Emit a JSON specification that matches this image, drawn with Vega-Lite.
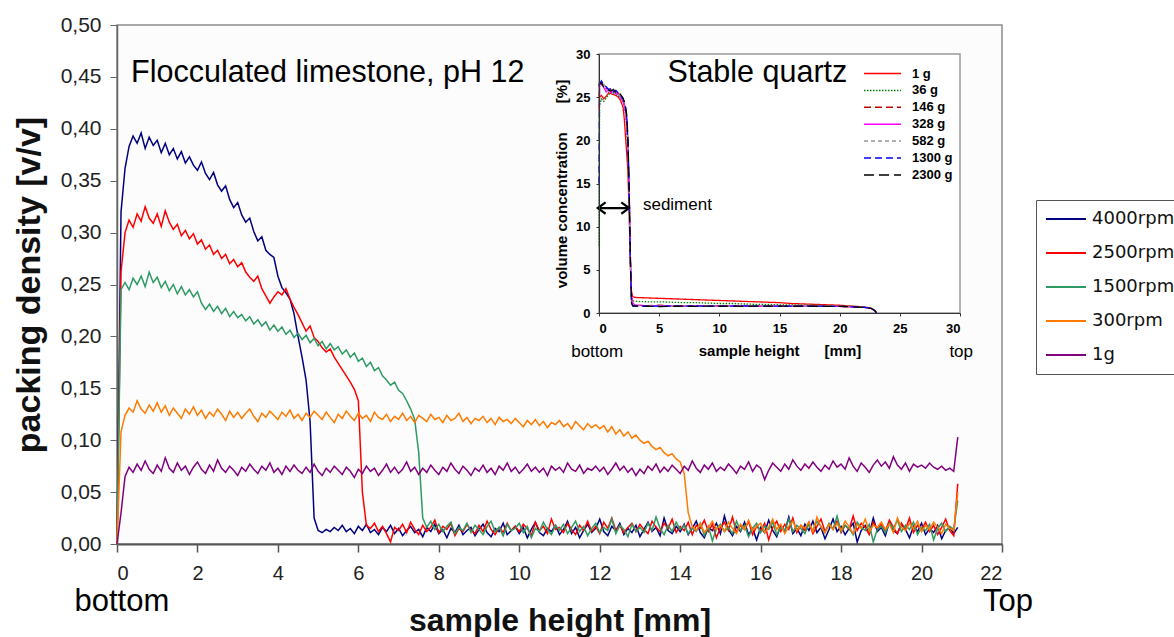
{
"$schema": "https://vega.github.io/schema/vega-lite/v6.json",
"width": 885, "height": 519,
"autosize": {"type": "none"},
"padding": {"left": 117, "top": 25, "right": 172, "bottom": 93},
"background": "white",
"config": {"font": "Liberation Sans", "view": {"stroke": "#8c8c8c", "strokeWidth": 1.5, "fill": "#fcfcfc"}},
"datasets": {
"main": [
{"x":0.0,"4000rpm":0,"2500rpm":0,"1500rpm":0,"300rpm":0,"1g":0},
{"x":0.1,"4000rpm":0.320,"2500rpm":0.262,"1500rpm":0.245,"300rpm":0.108,"1g":0.030},
{"x":0.2,"4000rpm":0.362,"2500rpm":0.300,"1500rpm":0.252,"300rpm":0.124,"1g":0.065},
{"x":0.3,"4000rpm":0.383,"2500rpm":0.312,"1500rpm":0.245,"300rpm":0.131,"1g":0.074},
{"x":0.4,"4000rpm":0.393,"2500rpm":0.305,"1500rpm":0.256,"300rpm":0.127,"1g":0.069},
{"x":0.5,"4000rpm":0.386,"2500rpm":0.318,"1500rpm":0.250,"300rpm":0.138,"1g":0.077},
{"x":0.6,"4000rpm":0.396,"2500rpm":0.311,"1500rpm":0.258,"300rpm":0.130,"1g":0.071},
{"x":0.7,"4000rpm":0.381,"2500rpm":0.325,"1500rpm":0.248,"300rpm":0.126,"1g":0.080},
{"x":0.8,"4000rpm":0.392,"2500rpm":0.314,"1500rpm":0.262,"300rpm":0.134,"1g":0.072},
{"x":0.9,"4000rpm":0.384,"2500rpm":0.309,"1500rpm":0.252,"300rpm":0.128,"1g":0.068},
{"x":1.0,"4000rpm":0.389,"2500rpm":0.318,"1500rpm":0.257,"300rpm":0.136,"1g":0.076},
{"x":1.1,"4000rpm":0.377,"2500rpm":0.306,"1500rpm":0.247,"300rpm":0.127,"1g":0.070},
{"x":1.2,"4000rpm":0.386,"2500rpm":0.321,"1500rpm":0.253,"300rpm":0.133,"1g":0.083},
{"x":1.3,"4000rpm":0.375,"2500rpm":0.310,"1500rpm":0.244,"300rpm":0.124,"1g":0.073},
{"x":1.4,"4000rpm":0.381,"2500rpm":0.303,"1500rpm":0.250,"300rpm":0.131,"1g":0.069},
{"x":1.5,"4000rpm":0.371,"2500rpm":0.308,"1500rpm":0.241,"300rpm":0.126,"1g":0.078},
{"x":1.6,"4000rpm":0.378,"2500rpm":0.297,"1500rpm":0.248,"300rpm":0.121,"1g":0.071},
{"x":1.7,"4000rpm":0.367,"2500rpm":0.302,"1500rpm":0.240,"300rpm":0.130,"1g":0.075},
{"x":1.8,"4000rpm":0.373,"2500rpm":0.294,"1500rpm":0.245,"300rpm":0.125,"1g":0.067},
{"x":1.9,"4000rpm":0.365,"2500rpm":0.299,"1500rpm":0.238,"300rpm":0.132,"1g":0.074},
{"x":2.0,"4000rpm":0.360,"2500rpm":0.289,"1500rpm":0.243,"300rpm":0.124,"1g":0.079},
{"x":2.1,"4000rpm":0.368,"2500rpm":0.293,"1500rpm":0.232,"300rpm":0.129,"1g":0.072},
{"x":2.2,"4000rpm":0.357,"2500rpm":0.284,"1500rpm":0.226,"300rpm":0.121,"1g":0.068},
{"x":2.3,"4000rpm":0.351,"2500rpm":0.288,"1500rpm":0.231,"300rpm":0.127,"1g":0.076},
{"x":2.4,"4000rpm":0.358,"2500rpm":0.279,"1500rpm":0.224,"300rpm":0.123,"1g":0.070},
{"x":2.5,"4000rpm":0.346,"2500rpm":0.283,"1500rpm":0.229,"300rpm":0.130,"1g":0.081},
{"x":2.6,"4000rpm":0.340,"2500rpm":0.275,"1500rpm":0.222,"300rpm":0.125,"1g":0.073},
{"x":2.7,"4000rpm":0.345,"2500rpm":0.279,"1500rpm":0.227,"300rpm":0.119,"1g":0.069},
{"x":2.8,"4000rpm":0.332,"2500rpm":0.270,"1500rpm":0.219,"300rpm":0.128,"1g":0.075},
{"x":2.9,"4000rpm":0.324,"2500rpm":0.274,"1500rpm":0.224,"300rpm":0.122,"1g":0.071},
{"x":3.0,"4000rpm":0.329,"2500rpm":0.267,"1500rpm":0.218,"300rpm":0.127,"1g":0.066},
{"x":3.1,"4000rpm":0.317,"2500rpm":0.271,"1500rpm":0.221,"300rpm":0.121,"1g":0.074},
{"x":3.2,"4000rpm":0.310,"2500rpm":0.262,"1500rpm":0.215,"300rpm":0.126,"1g":0.070},
{"x":3.3,"4000rpm":0.314,"2500rpm":0.257,"1500rpm":0.219,"300rpm":0.130,"1g":0.077},
{"x":3.4,"4000rpm":0.301,"2500rpm":0.253,"1500rpm":0.212,"300rpm":0.123,"1g":0.072},
{"x":3.5,"4000rpm":0.292,"2500rpm":0.258,"1500rpm":0.216,"300rpm":0.118,"1g":0.068},
{"x":3.6,"4000rpm":0.296,"2500rpm":0.246,"1500rpm":0.210,"300rpm":0.126,"1g":0.075},
{"x":3.7,"4000rpm":0.283,"2500rpm":0.239,"1500rpm":0.214,"300rpm":0.122,"1g":0.071},
{"x":3.8,"4000rpm":0.279,"2500rpm":0.232,"1500rpm":0.206,"300rpm":0.128,"1g":0.078},
{"x":3.9,"4000rpm":0.276,"2500rpm":0.238,"1500rpm":0.211,"300rpm":0.124,"1g":0.069},
{"x":4.0,"4000rpm":0.258,"2500rpm":0.243,"1500rpm":0.205,"300rpm":0.120,"1g":0.073},
{"x":4.1,"4000rpm":0.247,"2500rpm":0.240,"1500rpm":0.209,"300rpm":0.127,"1g":0.067},
{"x":4.2,"4000rpm":0.242,"2500rpm":0.246,"1500rpm":0.202,"300rpm":0.123,"1g":0.075},
{"x":4.3,"4000rpm":0.236,"2500rpm":0.236,"1500rpm":0.206,"300rpm":0.129,"1g":0.070},
{"x":4.4,"4000rpm":0.222,"2500rpm":0.228,"1500rpm":0.199,"300rpm":0.121,"1g":0.076},
{"x":4.5,"4000rpm":0.200,"2500rpm":0.221,"1500rpm":0.203,"300rpm":0.125,"1g":0.071},
{"x":4.6,"4000rpm":0.180,"2500rpm":0.213,"1500rpm":0.197,"300rpm":0.119,"1g":0.068},
{"x":4.7,"4000rpm":0.158,"2500rpm":0.205,"1500rpm":0.201,"300rpm":0.126,"1g":0.074},
{"x":4.8,"4000rpm":0.118,"2500rpm":0.210,"1500rpm":0.194,"300rpm":0.122,"1g":0.069},
{"x":4.9,"4000rpm":0.025,"2500rpm":0.199,"1500rpm":0.198,"300rpm":0.128,"1g":0.077},
{"x":5.0,"4000rpm":0.013,"2500rpm":0.195,"1500rpm":0.191,"300rpm":0.124,"1g":0.070},
{"x":5.1,"4000rpm":0.011,"2500rpm":0.189,"1500rpm":0.195,"300rpm":0.120,"1g":0.066},
{"x":5.2,"4000rpm":0.014,"2500rpm":0.185,"1500rpm":0.188,"300rpm":0.127,"1g":0.073},
{"x":5.3,"4000rpm":0.012,"2500rpm":0.188,"1500rpm":0.193,"300rpm":0.122,"1g":0.069},
{"x":5.4,"4000rpm":0.016,"2500rpm":0.180,"1500rpm":0.187,"300rpm":0.117,"1g":0.075},
{"x":5.5,"4000rpm":0.013,"2500rpm":0.174,"1500rpm":0.190,"300rpm":0.125,"1g":0.071},
{"x":5.6,"4000rpm":0.018,"2500rpm":0.168,"1500rpm":0.183,"300rpm":0.121,"1g":0.067},
{"x":5.7,"4000rpm":0.012,"2500rpm":0.162,"1500rpm":0.187,"300rpm":0.128,"1g":0.074},
{"x":5.8,"4000rpm":0.015,"2500rpm":0.156,"1500rpm":0.180,"300rpm":0.123,"1g":0.070},
{"x":5.9,"4000rpm":0.010,"2500rpm":0.149,"1500rpm":0.184,"300rpm":0.119,"1g":0.064},
{"x":6.0,"4000rpm":0.017,"2500rpm":0.138,"1500rpm":0.176,"300rpm":0.126,"1g":0.072},
{"x":6.1,"4000rpm":0.013,"2500rpm":0.050,"1500rpm":0.179,"300rpm":0.121,"1g":0.068},
{"x":6.2,"4000rpm":0.019,"2500rpm":0.018,"1500rpm":0.171,"300rpm":0.124,"1g":0.075},
{"x":6.3,"4000rpm":0.011,"2500rpm":0.015,"1500rpm":0.175,"300rpm":0.118,"1g":0.070},
{"x":6.4,"4000rpm":0.014,"2500rpm":0.020,"1500rpm":0.167,"300rpm":0.127,"1g":0.073},
{"x":6.5,"4000rpm":0.009,"2500rpm":0.012,"1500rpm":0.170,"300rpm":0.122,"1g":0.066},
{"x":6.6,"4000rpm":0.016,"2500rpm":0.017,"1500rpm":0.162,"300rpm":0.120,"1g":0.071},
{"x":6.7,"4000rpm":0.012,"2500rpm":0.010,"1500rpm":0.158,"300rpm":0.125,"1g":0.077},
{"x":6.8,"4000rpm":0.018,"2500rpm":0.002,"1500rpm":0.153,"300rpm":0.118,"1g":0.069},
{"x":6.9,"4000rpm":0.010,"2500rpm":0.016,"1500rpm":0.156,"300rpm":0.123,"1g":0.074},
{"x":7.0,"4000rpm":0.015,"2500rpm":0.013,"1500rpm":0.148,"300rpm":0.120,"1g":0.068},
{"x":7.1,"4000rpm":0.008,"2500rpm":0.019,"1500rpm":0.145,"300rpm":0.126,"1g":0.072},
{"x":7.2,"4000rpm":0.013,"2500rpm":0.011,"1500rpm":0.138,"300rpm":0.119,"1g":0.079},
{"x":7.3,"4000rpm":0.017,"2500rpm":0.021,"1500rpm":0.130,"300rpm":0.123,"1g":0.070},
{"x":7.4,"4000rpm":0.011,"2500rpm":0.014,"1500rpm":0.120,"300rpm":0.117,"1g":0.074},
{"x":7.5,"4000rpm":0.014,"2500rpm":0.009,"1500rpm":0.088,"300rpm":0.124,"1g":0.067},
{"x":7.6,"4000rpm":0.007,"2500rpm":0.018,"1500rpm":0.025,"300rpm":0.121,"1g":0.073},
{"x":7.7,"4000rpm":0.016,"2500rpm":0.012,"1500rpm":0.016,"300rpm":0.118,"1g":0.069},
{"x":7.8,"4000rpm":0.012,"2500rpm":0.016,"1500rpm":0.022,"300rpm":0.125,"1g":0.076},
{"x":7.9,"4000rpm":0.019,"2500rpm":0.023,"1500rpm":0.014,"300rpm":0.120,"1g":0.071},
{"x":8.0,"4000rpm":0.010,"2500rpm":0.011,"1500rpm":0.019,"300rpm":0.122,"1g":0.067},
{"x":8.1,"4000rpm":0.014,"2500rpm":0.017,"1500rpm":0.012,"300rpm":0.117,"1g":0.074},
{"x":8.2,"4000rpm":0.006,"2500rpm":0.014,"1500rpm":0.017,"300rpm":0.124,"1g":0.070},
{"x":8.3,"4000rpm":0.015,"2500rpm":0.020,"1500rpm":0.021,"300rpm":0.119,"1g":0.078},
{"x":8.4,"4000rpm":0.011,"2500rpm":0.008,"1500rpm":0.010,"300rpm":0.121,"1g":0.072},
{"x":8.5,"4000rpm":0.018,"2500rpm":0.015,"1500rpm":0.016,"300rpm":0.126,"1g":0.068},
{"x":8.6,"4000rpm":0.009,"2500rpm":0.012,"1500rpm":0.013,"300rpm":0.118,"1g":0.075},
{"x":8.7,"4000rpm":0.013,"2500rpm":0.019,"1500rpm":0.020,"300rpm":0.122,"1g":0.071},
{"x":8.8,"4000rpm":0.016,"2500rpm":0.013,"1500rpm":0.011,"300rpm":0.116,"1g":0.066},
{"x":8.9,"4000rpm":0.008,"2500rpm":0.010,"1500rpm":0.018,"300rpm":0.121,"1g":0.073},
{"x":9.0,"4000rpm":0.014,"2500rpm":0.018,"1500rpm":0.014,"300rpm":0.119,"1g":0.070},
{"x":9.1,"4000rpm":0.019,"2500rpm":0.012,"1500rpm":0.009,"300rpm":0.123,"1g":0.076},
{"x":9.2,"4000rpm":0.011,"2500rpm":0.022,"1500rpm":0.017,"300rpm":0.117,"1g":0.069},
{"x":9.3,"4000rpm":0.007,"2500rpm":0.014,"1500rpm":0.022,"300rpm":0.121,"1g":0.073},
{"x":9.4,"4000rpm":0.015,"2500rpm":0.009,"1500rpm":0.012,"300rpm":0.115,"1g":0.067},
{"x":9.5,"4000rpm":0.012,"2500rpm":0.016,"1500rpm":0.016,"300rpm":0.122,"1g":0.075},
{"x":9.6,"4000rpm":0.020,"2500rpm":0.011,"1500rpm":0.008,"300rpm":0.118,"1g":0.071},
{"x":9.7,"4000rpm":0.009,"2500rpm":0.020,"1500rpm":0.019,"300rpm":0.120,"1g":0.078},
{"x":9.8,"4000rpm":0.013,"2500rpm":0.013,"1500rpm":0.013,"300rpm":0.116,"1g":0.070},
{"x":9.9,"4000rpm":0.017,"2500rpm":0.017,"1500rpm":0.015,"300rpm":0.121,"1g":0.074},
{"x":10.0,"4000rpm":0.010,"2500rpm":0.012,"1500rpm":0.020,"300rpm":0.117,"1g":0.068},
{"x":10.1,"4000rpm":0.016,"2500rpm":0.019,"1500rpm":0.011,"300rpm":0.113,"1g":0.072},
{"x":10.2,"4000rpm":0.006,"2500rpm":0.015,"1500rpm":0.017,"300rpm":0.119,"1g":0.077},
{"x":10.3,"4000rpm":0.014,"2500rpm":0.008,"1500rpm":0.006,"300rpm":0.115,"1g":0.070},
{"x":10.4,"4000rpm":0.021,"2500rpm":0.021,"1500rpm":0.015,"300rpm":0.120,"1g":0.074},
{"x":10.5,"4000rpm":0.011,"2500rpm":0.013,"1500rpm":0.012,"300rpm":0.114,"1g":0.069},
{"x":10.6,"4000rpm":0.008,"2500rpm":0.017,"1500rpm":0.021,"300rpm":0.118,"1g":0.073},
{"x":10.7,"4000rpm":0.015,"2500rpm":0.010,"1500rpm":0.014,"300rpm":0.112,"1g":0.066},
{"x":10.8,"4000rpm":0.012,"2500rpm":0.024,"1500rpm":0.009,"300rpm":0.117,"1g":0.075},
{"x":10.9,"4000rpm":0.018,"2500rpm":0.014,"1500rpm":0.018,"300rpm":0.115,"1g":0.071},
{"x":11.0,"4000rpm":0.009,"2500rpm":0.016,"1500rpm":0.013,"300rpm":0.119,"1g":0.074},
{"x":11.1,"4000rpm":0.014,"2500rpm":0.011,"1500rpm":0.019,"300rpm":0.113,"1g":0.069},
{"x":11.2,"4000rpm":0.022,"2500rpm":0.020,"1500rpm":0.010,"300rpm":0.116,"1g":0.078},
{"x":11.3,"4000rpm":0.010,"2500rpm":0.014,"1500rpm":0.016,"300rpm":0.111,"1g":0.072},
{"x":11.4,"4000rpm":0.016,"2500rpm":0.009,"1500rpm":0.022,"300rpm":0.118,"1g":0.070},
{"x":11.5,"4000rpm":0.006,"2500rpm":0.018,"1500rpm":0.012,"300rpm":0.114,"1g":0.076},
{"x":11.6,"4000rpm":0.013,"2500rpm":0.013,"1500rpm":0.017,"300rpm":0.110,"1g":0.068},
{"x":11.7,"4000rpm":0.019,"2500rpm":0.022,"1500rpm":0.008,"300rpm":0.116,"1g":0.073},
{"x":11.8,"4000rpm":0.011,"2500rpm":0.012,"1500rpm":0.015,"300rpm":0.112,"1g":0.071},
{"x":11.9,"4000rpm":0.015,"2500rpm":0.017,"1500rpm":0.020,"300rpm":0.115,"1g":0.075},
{"x":12.0,"4000rpm":0.024,"2500rpm":0.010,"1500rpm":0.011,"300rpm":0.111,"1g":0.070},
{"x":12.1,"4000rpm":0.012,"2500rpm":0.021,"1500rpm":0.016,"300rpm":0.114,"1g":0.074},
{"x":12.2,"4000rpm":0.008,"2500rpm":0.015,"1500rpm":0.013,"300rpm":0.108,"1g":0.067},
{"x":12.3,"4000rpm":0.017,"2500rpm":0.025,"1500rpm":0.024,"300rpm":0.113,"1g":0.072},
{"x":12.4,"4000rpm":0.013,"2500rpm":0.013,"1500rpm":0.010,"300rpm":0.106,"1g":0.078},
{"x":12.5,"4000rpm":0.020,"2500rpm":0.018,"1500rpm":0.018,"300rpm":0.110,"1g":0.071},
{"x":12.6,"4000rpm":0.009,"2500rpm":0.011,"1500rpm":0.014,"300rpm":0.104,"1g":0.075},
{"x":12.7,"4000rpm":0.015,"2500rpm":0.016,"1500rpm":0.007,"300rpm":0.108,"1g":0.069},
{"x":12.8,"4000rpm":0.011,"2500rpm":0.020,"1500rpm":0.019,"300rpm":0.102,"1g":0.073},
{"x":12.9,"4000rpm":0.018,"2500rpm":0.012,"1500rpm":0.012,"300rpm":0.105,"1g":0.066},
{"x":13.0,"4000rpm":0.007,"2500rpm":0.019,"1500rpm":0.016,"300rpm":0.100,"1g":0.072},
{"x":13.1,"4000rpm":0.014,"2500rpm":0.014,"1500rpm":0.011,"300rpm":0.097,"1g":0.068},
{"x":13.2,"4000rpm":0.021,"2500rpm":0.010,"1500rpm":0.020,"300rpm":0.099,"1g":0.075},
{"x":13.3,"4000rpm":0.012,"2500rpm":0.022,"1500rpm":0.013,"300rpm":0.094,"1g":0.071},
{"x":13.4,"4000rpm":0.016,"2500rpm":0.016,"1500rpm":0.026,"300rpm":0.091,"1g":0.077},
{"x":13.5,"4000rpm":0.008,"2500rpm":0.012,"1500rpm":0.015,"300rpm":0.093,"1g":0.069},
{"x":13.6,"4000rpm":0.025,"2500rpm":0.020,"1500rpm":0.009,"300rpm":0.088,"1g":0.074},
{"x":13.7,"4000rpm":0.013,"2500rpm":0.015,"1500rpm":0.018,"300rpm":0.085,"1g":0.070},
{"x":13.8,"4000rpm":0.010,"2500rpm":0.024,"1500rpm":0.012,"300rpm":0.087,"1g":0.076},
{"x":13.9,"4000rpm":0.017,"2500rpm":0.011,"1500rpm":0.021,"300rpm":0.082,"1g":0.072},
{"x":14.0,"4000rpm":0.012,"2500rpm":0.017,"1500rpm":0.014,"300rpm":0.079,"1g":0.068},
{"x":14.1,"4000rpm":0.019,"2500rpm":0.013,"1500rpm":0.018,"300rpm":0.068,"1g":0.075},
{"x":14.2,"4000rpm":0.009,"2500rpm":0.021,"1500rpm":0.010,"300rpm":0.030,"1g":0.071},
{"x":14.3,"4000rpm":0.015,"2500rpm":0.009,"1500rpm":0.016,"300rpm":0.017,"1g":0.080},
{"x":14.4,"4000rpm":0.022,"2500rpm":0.018,"1500rpm":0.012,"300rpm":0.013,"1g":0.073},
{"x":14.5,"4000rpm":0.011,"2500rpm":0.015,"1500rpm":0.020,"300rpm":0.020,"1g":0.069},
{"x":14.6,"4000rpm":0.006,"2500rpm":0.023,"1500rpm":0.008,"300rpm":0.011,"1g":0.076},
{"x":14.7,"4000rpm":0.016,"2500rpm":0.012,"1500rpm":0.017,"300rpm":0.016,"1g":0.072},
{"x":14.8,"4000rpm":0.013,"2500rpm":0.019,"1500rpm":0.003,"300rpm":0.022,"1g":0.078},
{"x":14.9,"4000rpm":0.020,"2500rpm":0.006,"1500rpm":0.015,"300rpm":0.014,"1g":0.070},
{"x":15.0,"4000rpm":0.010,"2500rpm":0.016,"1500rpm":0.019,"300rpm":0.018,"1g":0.074},
{"x":15.1,"4000rpm":0.027,"2500rpm":0.021,"1500rpm":0.012,"300rpm":0.012,"1g":0.071},
{"x":15.2,"4000rpm":0.014,"2500rpm":0.013,"1500rpm":0.016,"300rpm":0.021,"1g":0.077},
{"x":15.3,"4000rpm":0.008,"2500rpm":0.026,"1500rpm":0.010,"300rpm":0.015,"1g":0.073},
{"x":15.4,"4000rpm":0.017,"2500rpm":0.011,"1500rpm":0.022,"300rpm":0.010,"1g":0.068},
{"x":15.5,"4000rpm":0.012,"2500rpm":0.018,"1500rpm":0.013,"300rpm":0.019,"1g":0.075},
{"x":15.6,"4000rpm":0.021,"2500rpm":0.014,"1500rpm":0.018,"300rpm":0.014,"1g":0.072},
{"x":15.7,"4000rpm":0.009,"2500rpm":0.022,"1500rpm":0.007,"300rpm":0.023,"1g":0.079},
{"x":15.8,"4000rpm":0.015,"2500rpm":0.009,"1500rpm":0.015,"300rpm":0.013,"1g":0.070},
{"x":15.9,"4000rpm":0.004,"2500rpm":0.017,"1500rpm":0.020,"300rpm":0.017,"1g":0.076},
{"x":16.0,"4000rpm":0.016,"2500rpm":0.013,"1500rpm":0.011,"300rpm":0.020,"1g":0.073},
{"x":16.1,"4000rpm":0.011,"2500rpm":0.020,"1500rpm":0.017,"300rpm":0.011,"1g":0.062},
{"x":16.2,"4000rpm":0.023,"2500rpm":0.004,"1500rpm":0.014,"300rpm":0.016,"1g":0.071},
{"x":16.3,"4000rpm":0.013,"2500rpm":0.016,"1500rpm":0.021,"300rpm":0.024,"1g":0.078},
{"x":16.4,"4000rpm":0.007,"2500rpm":0.022,"1500rpm":0.009,"300rpm":0.014,"1g":0.074},
{"x":16.5,"4000rpm":0.018,"2500rpm":0.012,"1500rpm":0.016,"300rpm":0.019,"1g":0.070},
{"x":16.6,"4000rpm":0.012,"2500rpm":0.019,"1500rpm":0.013,"300rpm":0.010,"1g":0.077},
{"x":16.7,"4000rpm":0.026,"2500rpm":0.014,"1500rpm":0.024,"300rpm":0.017,"1g":0.072},
{"x":16.8,"4000rpm":0.010,"2500rpm":0.025,"1500rpm":0.012,"300rpm":0.022,"1g":0.081},
{"x":16.9,"4000rpm":0.015,"2500rpm":0.011,"1500rpm":0.018,"300rpm":0.013,"1g":0.075},
{"x":17.0,"4000rpm":0.008,"2500rpm":0.018,"1500rpm":0.015,"300rpm":0.018,"1g":0.071},
{"x":17.1,"4000rpm":0.019,"2500rpm":0.013,"1500rpm":0.010,"300rpm":0.015,"1g":0.077},
{"x":17.2,"4000rpm":0.013,"2500rpm":0.021,"1500rpm":0.019,"300rpm":0.021,"1g":0.073},
{"x":17.3,"4000rpm":0.022,"2500rpm":0.010,"1500rpm":0.013,"300rpm":0.012,"1g":0.079},
{"x":17.4,"4000rpm":0.011,"2500rpm":0.017,"1500rpm":0.022,"300rpm":0.026,"1g":0.074},
{"x":17.5,"4000rpm":0.016,"2500rpm":0.024,"1500rpm":0.017,"300rpm":0.016,"1g":0.070},
{"x":17.6,"4000rpm":0.005,"2500rpm":0.012,"1500rpm":0.011,"300rpm":0.011,"1g":0.076},
{"x":17.7,"4000rpm":0.014,"2500rpm":0.019,"1500rpm":0.020,"300rpm":0.019,"1g":0.072},
{"x":17.8,"4000rpm":0.024,"2500rpm":0.015,"1500rpm":0.014,"300rpm":0.014,"1g":0.080},
{"x":17.9,"4000rpm":0.012,"2500rpm":0.022,"1500rpm":0.027,"300rpm":0.020,"1g":0.074},
{"x":18.0,"4000rpm":0.017,"2500rpm":0.011,"1500rpm":0.012,"300rpm":0.013,"1g":0.077},
{"x":18.1,"4000rpm":0.009,"2500rpm":0.018,"1500rpm":0.018,"300rpm":0.022,"1g":0.072},
{"x":18.2,"4000rpm":0.015,"2500rpm":0.014,"1500rpm":0.015,"300rpm":0.017,"1g":0.083},
{"x":18.3,"4000rpm":0.020,"2500rpm":0.027,"1500rpm":0.009,"300rpm":0.010,"1g":0.075},
{"x":18.4,"4000rpm":0.002,"2500rpm":0.013,"1500rpm":0.021,"300rpm":0.019,"1g":0.070},
{"x":18.5,"4000rpm":0.013,"2500rpm":0.020,"1500rpm":0.016,"300rpm":0.015,"1g":0.078},
{"x":18.6,"4000rpm":0.018,"2500rpm":0.016,"1500rpm":0.013,"300rpm":0.024,"1g":0.074},
{"x":18.7,"4000rpm":0.010,"2500rpm":0.009,"1500rpm":0.019,"300rpm":0.012,"1g":0.069},
{"x":18.8,"4000rpm":0.025,"2500rpm":0.021,"1500rpm":0.002,"300rpm":0.018,"1g":0.076},
{"x":18.9,"4000rpm":0.012,"2500rpm":0.015,"1500rpm":0.014,"300rpm":0.016,"1g":0.081},
{"x":19.0,"4000rpm":0.016,"2500rpm":0.019,"1500rpm":0.017,"300rpm":0.021,"1g":0.075},
{"x":19.1,"4000rpm":0.008,"2500rpm":0.012,"1500rpm":0.011,"300rpm":0.014,"1g":0.079},
{"x":19.2,"4000rpm":0.021,"2500rpm":0.023,"1500rpm":0.020,"300rpm":0.019,"1g":0.073},
{"x":19.3,"4000rpm":0.013,"2500rpm":0.016,"1500rpm":0.015,"300rpm":0.011,"1g":0.084},
{"x":19.4,"4000rpm":0.010,"2500rpm":0.010,"1500rpm":0.023,"300rpm":0.025,"1g":0.076},
{"x":19.5,"4000rpm":0.019,"2500rpm":0.020,"1500rpm":0.012,"300rpm":0.016,"1g":0.072},
{"x":19.6,"4000rpm":0.014,"2500rpm":0.014,"1500rpm":0.018,"300rpm":0.013,"1g":0.078},
{"x":19.7,"4000rpm":0.006,"2500rpm":0.025,"1500rpm":0.014,"300rpm":0.020,"1g":0.070},
{"x":19.8,"4000rpm":0.017,"2500rpm":0.011,"1500rpm":0.021,"300rpm":0.015,"1g":0.077},
{"x":19.9,"4000rpm":0.012,"2500rpm":0.018,"1500rpm":0.009,"300rpm":0.022,"1g":0.074},
{"x":20.0,"4000rpm":0.020,"2500rpm":0.014,"1500rpm":0.016,"300rpm":0.012,"1g":0.076},
{"x":20.1,"4000rpm":0.009,"2500rpm":0.021,"1500rpm":0.013,"300rpm":0.018,"1g":0.073},
{"x":20.2,"4000rpm":0.015,"2500rpm":0.012,"1500rpm":0.019,"300rpm":0.014,"1g":0.078},
{"x":20.3,"4000rpm":0.011,"2500rpm":0.018,"1500rpm":0.004,"300rpm":0.021,"1g":0.074},
{"x":20.4,"4000rpm":0.018,"2500rpm":0.009,"1500rpm":0.015,"300rpm":0.016,"1g":0.072},
{"x":20.5,"4000rpm":0.005,"2500rpm":0.016,"1500rpm":0.020,"300rpm":0.010,"1g":0.075},
{"x":20.6,"4000rpm":0.013,"2500rpm":0.024,"1500rpm":0.012,"300rpm":0.019,"1g":0.071},
{"x":20.7,"4000rpm":0.016,"2500rpm":0.013,"1500rpm":0.017,"300rpm":0.015,"1g":0.073},
{"x":20.8,"4000rpm":0.010,"2500rpm":0.008,"1500rpm":0.014,"300rpm":0.013,"1g":0.070},
{"x":20.9,"4000rpm":0.016,"2500rpm":0.058,"1500rpm":0.042,"300rpm":0.050,"1g":0.103}
],
"inset": [
{"x":0,"1 g":23.5,"36 g":7.8,"146 g":25.0,"328 g":26.0,"582 g":21.0,"1300 g":15.0,"2300 g":26.3},
{"x":0.05,"1 g":25.0,"36 g":24.0,"146 g":26.4,"328 g":26.6,"582 g":26.2,"1300 g":26.5,"2300 g":26.7},
{"x":0.2,"1 g":25.2,"36 g":24.8,"146 g":26.7,"328 g":26.5,"582 g":26.3,"1300 g":26.9,"2300 g":26.6},
{"x":0.4,"1 g":24.8,"36 g":24.5,"146 g":26.3,"328 g":26.1,"582 g":26.5,"1300 g":26.4,"2300 g":26.2},
{"x":0.6,"1 g":25.1,"36 g":24.9,"146 g":26.0,"328 g":25.6,"582 g":26.1,"1300 g":26.2,"2300 g":26.0},
{"x":0.8,"1 g":25.5,"36 g":25.3,"146 g":25.8,"328 g":25.9,"582 g":25.7,"1300 g":25.9,"2300 g":25.8},
{"x":1.0,"1 g":25.4,"36 g":25.6,"146 g":25.9,"328 g":25.5,"582 g":25.8,"1300 g":26.0,"2300 g":25.7},
{"x":1.2,"1 g":25.3,"36 g":25.4,"146 g":25.6,"328 g":25.7,"582 g":25.5,"1300 g":25.6,"2300 g":25.9},
{"x":1.4,"1 g":25.2,"36 g":25.3,"146 g":25.7,"328 g":25.4,"582 g":25.6,"1300 g":25.8,"2300 g":25.5},
{"x":1.6,"1 g":25.0,"36 g":25.1,"146 g":25.4,"328 g":25.3,"582 g":25.3,"1300 g":25.5,"2300 g":25.6},
{"x":1.8,"1 g":24.6,"36 g":24.9,"146 g":25.1,"328 g":25.0,"582 g":25.2,"1300 g":25.2,"2300 g":25.3},
{"x":2.0,"1 g":23.8,"36 g":24.4,"146 g":24.6,"328 g":24.5,"582 g":24.7,"1300 g":24.8,"2300 g":24.9},
{"x":2.1,"1 g":22.5,"36 g":23.9,"146 g":24.2,"328 g":24.0,"582 g":24.3,"1300 g":24.4,"2300 g":24.5},
{"x":2.2,"1 g":20.5,"36 g":23.0,"146 g":23.6,"328 g":23.3,"582 g":23.7,"1300 g":23.8,"2300 g":24.0},
{"x":2.3,"1 g":18.5,"36 g":21.5,"146 g":22.5,"328 g":22.0,"582 g":22.6,"1300 g":22.8,"2300 g":23.0},
{"x":2.4,"1 g":16.5,"36 g":18.0,"146 g":19.5,"328 g":20.0,"582 g":19.8,"1300 g":20.0,"2300 g":20.5},
{"x":2.5,"1 g":12.0,"36 g":12.5,"146 g":14.0,"328 g":15.0,"582 g":14.0,"1300 g":14.5,"2300 g":15.0},
{"x":2.6,"1 g":6.0,"36 g":5.5,"146 g":6.5,"328 g":7.0,"582 g":6.5,"1300 g":6.5,"2300 g":7.0},
{"x":2.7,"1 g":2.5,"36 g":2.0,"146 g":1.5,"328 g":2.0,"582 g":1.3,"1300 g":1.2,"2300 g":1.2},
{"x":2.8,"1 g":1.9,"36 g":1.4,"146 g":1.0,"328 g":1.2,"582 g":0.9,"1300 g":0.9,"2300 g":0.8},
{"x":3,"1 g":1.8,"36 g":1.35,"146 g":0.9,"328 g":0.9,"582 g":0.85,"1300 g":0.8,"2300 g":0.8},
{"x":4,"1 g":1.75,"36 g":1.3,"146 g":0.85,"328 g":0.85,"582 g":0.8,"1300 g":0.78,"2300 g":0.8},
{"x":5,"1 g":1.7,"36 g":1.3,"146 g":0.9,"328 g":0.8,"582 g":0.85,"1300 g":0.8,"2300 g":0.75},
{"x":6,"1 g":1.65,"36 g":1.25,"146 g":0.85,"328 g":0.85,"582 g":0.8,"1300 g":0.8,"2300 g":0.78},
{"x":7,"1 g":1.6,"36 g":1.2,"146 g":0.8,"328 g":0.8,"582 g":0.82,"1300 g":0.78,"2300 g":0.8},
{"x":8,"1 g":1.55,"36 g":1.2,"146 g":0.85,"328 g":0.85,"582 g":0.8,"1300 g":0.82,"2300 g":0.76},
{"x":9,"1 g":1.5,"36 g":1.15,"146 g":0.8,"328 g":0.78,"582 g":0.8,"1300 g":0.8,"2300 g":0.8},
{"x":10,"1 g":1.45,"36 g":1.1,"146 g":0.85,"328 g":0.8,"582 g":0.82,"1300 g":0.78,"2300 g":0.78},
{"x":11,"1 g":1.4,"36 g":1.1,"146 g":0.8,"328 g":0.82,"582 g":0.78,"1300 g":0.8,"2300 g":0.8},
{"x":12,"1 g":1.35,"36 g":1.05,"146 g":0.82,"328 g":0.8,"582 g":0.8,"1300 g":0.82,"2300 g":0.77},
{"x":13,"1 g":1.3,"36 g":1.0,"146 g":0.8,"328 g":0.78,"582 g":0.82,"1300 g":0.8,"2300 g":0.8},
{"x":14,"1 g":1.25,"36 g":1.0,"146 g":0.8,"328 g":0.8,"582 g":0.8,"1300 g":0.78,"2300 g":0.78},
{"x":15,"1 g":1.2,"36 g":0.95,"146 g":0.82,"328 g":0.8,"582 g":0.78,"1300 g":0.8,"2300 g":0.8},
{"x":16,"1 g":1.1,"36 g":0.95,"146 g":0.8,"328 g":0.78,"582 g":0.8,"1300 g":0.8,"2300 g":0.78},
{"x":17,"1 g":1.05,"36 g":0.9,"146 g":0.78,"328 g":0.8,"582 g":0.8,"1300 g":0.78,"2300 g":0.79},
{"x":18,"1 g":1.0,"36 g":0.9,"146 g":0.8,"328 g":0.78,"582 g":0.78,"1300 g":0.8,"2300 g":0.78},
{"x":19,"1 g":0.95,"36 g":0.85,"146 g":0.78,"328 g":0.76,"582 g":0.8,"1300 g":0.78,"2300 g":0.77},
{"x":20,"1 g":0.9,"36 g":0.8,"146 g":0.76,"328 g":0.76,"582 g":0.76,"1300 g":0.76,"2300 g":0.76},
{"x":21,"1 g":0.8,"36 g":0.78,"146 g":0.72,"328 g":0.72,"582 g":0.74,"1300 g":0.72,"2300 g":0.72},
{"x":22,"1 g":0.7,"36 g":0.72,"146 g":0.68,"328 g":0.66,"582 g":0.68,"1300 g":0.66,"2300 g":0.66},
{"x":22.6,"1 g":0.55,"36 g":0.55,"146 g":0.55,"328 g":0.55,"582 g":0.55,"1300 g":0.55,"2300 g":0.55},
{"x":22.9,"1 g":0.3,"36 g":0.3,"146 g":0.3,"328 g":0.3,"582 g":0.3,"1300 g":0.3,"2300 g":0.3},
{"x":23.05,"1 g":0.05,"36 g":0.05,"146 g":0.05,"328 g":0.05,"582 g":0.05,"1300 g":0.05,"2300 g":0.05}
]
},
"layer": [
{
"layer": [
{
"data": {"name": "main"},
"transform": [{"fold": ["4000rpm","2500rpm","1500rpm","300rpm","1g"], "as": ["s","v"]}],
"mark": {"type": "line", "strokeWidth": 1.5},
"encoding": {
"x": {"field": "x", "type": "quantitative", "scale": {"domain": [0,22], "nice": false, "zero": false},
"axis": {"orient": "bottom", "values": [0,2,4,6,8,10,12,14,16,18,20,22], "title": "sample height [mm]", "titleFontSize": 32, "titleFontWeight": "bold", "titleColor": "#111", "titlePadding": 22, "labelFontSize": 20, "labelColor": "#222", "labelPadding": 11, "tickSize": 8, "tickColor": "#555", "tickWidth": 1.5, "domainColor": "#555", "domainWidth": 2, "grid": false}},
"y": {"field": "v", "type": "quantitative", "scale": {"domain": [0,0.5], "nice": false},
"axis": {"orient": "left", "values": [0,0.05,0.1,0.15,0.2,0.25,0.3,0.35,0.4,0.45,0.5], "labelExpr": "replace(format(datum.value, '.2f'), '.', ',')", "title": "packing density [v/v]", "titleFontSize": 34, "titleFontWeight": "bold", "titleColor": "#111", "titlePadding": 14, "labelFontSize": 21, "labelColor": "#222", "labelPadding": 9, "tickSize": 7, "tickColor": "#666", "domainColor": "#666", "domainWidth": 1.5, "grid": false}},
"color": {"field": "s", "type": "nominal", "scale": {"domain": ["4000rpm","2500rpm","1500rpm","300rpm","1g"], "range": ["#000080","#ff0000","#2e9a64","#ff7a00","#800080"]},
"legend": {"orient": "none", "legendX": 919, "legendY": 175, "title": null, "symbolType": "stroke", "symbolSize": 1600, "symbolStrokeWidth": 2, "labelFontSize": 18, "labelFont": "DejaVu Sans", "labelColor": "#111", "labelOffset": 5, "clipHeight": 20, "rowPadding": 14, "padding": 9, "strokeColor": "#555", "fillColor": "#ffffff"}}
}
},
{
"data": {"values": [{"x": 0.35, "v": 0.445, "t": "Flocculated limestone, pH 12"}]},
"mark": {"type": "text", "align": "left", "baseline": "alphabetic", "fontSize": 30.5, "color": "#000"},
"encoding": {"x": {"field": "x", "type": "quantitative"}, "y": {"field": "v", "type": "quantitative"}, "text": {"field": "t"}}
},
{
"data": {"values": [{"x": 0.12, "v": -0.0645, "t": "bottom"}, {"x": 22.15, "v": -0.0645, "t": "Top"}]},
"mark": {"type": "text", "align": "center", "baseline": "alphabetic", "fontSize": 31, "color": "#000"},
"encoding": {"x": {"field": "x", "type": "quantitative"}, "y": {"field": "v", "type": "quantitative"}, "text": {"field": "t"}}
}
]
},
{
"layer": [
{
"data": {"values": [{"x": 0, "x2": 30, "c": 0, "c2": 30}]},
"mark": {"type": "rect", "fill": "#ffffff", "stroke": "#999999", "strokeWidth": 1.5},
"encoding": {
"x": {"field": "x", "type": "quantitative", "scale": {"domain": [0,30], "range": [482,843], "nice": false, "zero": false},
"axis": {"orient": "bottom", "offset": -231, "values": [0,5,10,15,20,25,30], "title": "sample height\u00a0\u00a0\u00a0\u00a0\u00a0\u00a0[mm]", "titleFontSize": 15, "titleFontWeight": "bold", "titleColor": "#000", "titlePadding": 8, "labelFontSize": 13, "labelFontWeight": "bold", "labelColor": "#000", "labelPadding": 6, "tickSize": 3, "tickColor": "#333", "domainColor": "#333", "grid": false, "zindex": 1}},
"x2": {"field": "x2"},
"y": {"field": "c", "type": "quantitative", "scale": {"domain": [0,30], "range": [288,29], "nice": false},
"axis": {"orient": "left", "offset": -482, "values": [0,5,10,15,20,25,30], "title": "volume concentration\u00a0\u00a0\u00a0\u00a0\u00a0\u00a0\u00a0[%]", "titleFontSize": 15, "titleFontWeight": "bold", "titleColor": "#000", "titlePadding": 6, "labelFontSize": 13, "labelFontWeight": "bold", "labelColor": "#000", "labelPadding": 6, "tickSize": 3, "tickColor": "#333", "domainColor": "#333", "grid": false, "zindex": 1}},
"y2": {"field": "c2"}
}
},
{
"data": {"name": "inset"},
"transform": [{"fold": ["1 g","36 g","146 g","328 g","582 g","1300 g","2300 g"], "as": ["g","c"]}],
"mark": {"type": "line", "strokeWidth": 1.3},
"encoding": {
"x": {"field": "x", "type": "quantitative"},
"y": {"field": "c", "type": "quantitative"},
"color": {"field": "g", "type": "nominal", "scale": {"domain": ["1 g","36 g","146 g","328 g","582 g","1300 g","2300 g"], "range": ["#ff0000","#008000","#c00000","#ff00ff","#999999","#0000ff","#000000"]},
"legend": {"orient": "none", "legendX": 746, "legendY": 42, "title": null, "symbolType": "stroke", "symbolSize": 1369, "symbolStrokeWidth": 1.5, "labelFontSize": 13, "labelFontWeight": "bold", "labelColor": "#000", "labelOffset": 10, "clipHeight": 13, "rowPadding": 2.9, "padding": 0}},
"strokeDash": {"field": "g", "type": "nominal", "scale": {"domain": ["1 g","36 g","146 g","328 g","582 g","1300 g","2300 g"], "range": [[1,0],[1.5,1.5],[7,4],[1,0],[4,3],[7,4],[10,5]]},
"legend": {"orient": "none", "legendX": 746, "legendY": 42, "title": null, "symbolType": "stroke", "symbolSize": 1369, "symbolStrokeWidth": 1.5, "labelFontSize": 13, "labelFontWeight": "bold", "labelColor": "#000", "labelOffset": 10, "clipHeight": 13, "rowPadding": 2.9, "padding": 0}}
}
},
{
"data": {"values": [{"x": -0.1, "x2": 2.5, "c": 12.15}]},
"mark": {"type": "rule", "color": "#000", "strokeWidth": 2.2},
"encoding": {"x": {"field": "x", "type": "quantitative"}, "x2": {"field": "x2"}, "y": {"field": "c", "type": "quantitative"}}
},
{
"data": {"values": [{"x": -0.1, "c": 12.15, "d": "left"}, {"x": 2.5, "c": 12.15, "d": "right"}]},
"mark": {"type": "point", "filled": false, "color": "#000", "strokeWidth": 2.2, "size": 200, "opacity": 1},
"encoding": {"x": {"field": "x", "type": "quantitative"}, "y": {"field": "c", "type": "quantitative"},
"shape": {"field": "d", "type": "nominal", "scale": {"domain": ["left","right"], "range": ["M1.1,-0.8L0,0L1.1,0.8","M-1.1,-0.8L0,0L-1.1,0.8"]}, "legend": null}}
},
{
"data": {"values": [{"x": 5.7, "c": 26.8, "t": "Stable quartz"}]},
"mark": {"type": "text", "align": "left", "baseline": "alphabetic", "fontSize": 30.5, "color": "#000"},
"encoding": {"x": {"field": "x", "type": "quantitative"}, "y": {"field": "c", "type": "quantitative"}, "text": {"field": "t"}}
},
{
"data": {"values": [{"x": 3.65, "c": 11.9, "t": "sediment"}]},
"mark": {"type": "text", "align": "left", "baseline": "alphabetic", "fontSize": 17, "color": "#000"},
"encoding": {"x": {"field": "x", "type": "quantitative"}, "y": {"field": "c", "type": "quantitative"}, "text": {"field": "t"}}
},
{
"data": {"values": [{"x": -0.15, "c": -5.06, "t": "bottom"}, {"x": 30.1, "c": -5.06, "t": "top"}]},
"mark": {"type": "text", "align": "center", "baseline": "alphabetic", "fontSize": 17, "color": "#000"},
"encoding": {"x": {"field": "x", "type": "quantitative"}, "y": {"field": "c", "type": "quantitative"}, "text": {"field": "t"}}
}
]
}
],
"resolve": {"scale": {"x": "independent", "y": "independent", "color": "independent", "strokeDash": "independent"}, "axis": {"x": "independent", "y": "independent"}, "legend": {"color": "independent", "strokeDash": "independent"}}
}
